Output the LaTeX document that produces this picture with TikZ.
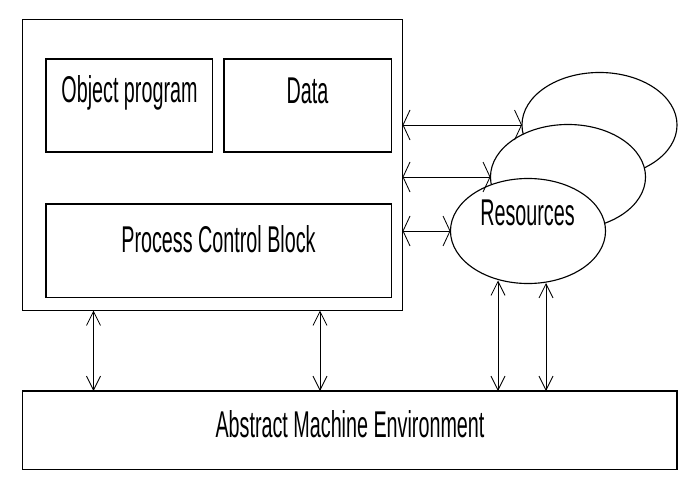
\documentclass[tikz,border=0pt]{standalone}
\usepackage{fontspec}
\newfontfamily\narrowfont{Liberation Sans}[FakeStretch=0.53]
\usetikzlibrary{arrows.meta,shapes.geometric}
\tikzset{hb/.tip={Straight Barb[length=0.175cm,width=0.75cm]},
	vb/.tip={Straight Barb[length=0.35cm,width=0.35cm]},
	box/.style={rectangle,draw=black,line width=0.9pt,inner sep=0pt,outer sep=0pt},
	res/.style={ellipse,draw=black,fill=white,line width=0.8pt,inner sep=0pt,outer sep=0pt,minimum width=3.875cm,minimum height=2.625cm},
	lbl/.style={anchor=base,inner sep=0pt,font=\narrowfont\fontsize{26.5}{30}\selectfont},
	harrow/.style={hb-hb,line width=0.6pt},
	varrow/.style={vb-vb,line width=0.6pt}}
\begin{document}
\begin{tikzpicture}[x=0.025cm,y=-0.025cm]
	\useasboundingbox (0,0) rectangle (694,486);
	\node (outer) at (212.5,165) [box,minimum width=9.5cm,minimum height=7.275cm] {};
	\node (obj) at (129.25,105.5) [box,minimum width=4.16cm,minimum height=2.325cm] {};
	\node (data) at (307.75,105.5) [box,minimum width=4.19cm,minimum height=2.325cm] {};
	\node (pcb) at (218.75,250.75) [box,minimum width=8.64cm,minimum height=2.34cm] {};
	\node (env) at (349.75,430.25) [box,minimum width=16.36cm,minimum height=1.96cm] {};
	\node (objtxt) at (129.5,102) [lbl] {Object program};
	\node (datatxt) at (307.5,103) [lbl] {Data};
	\node (pcbtxt) at (218.5,252) [lbl] {Process Control Block};
	\node (envtxt) at (350,437) [lbl] {Abstract Machine Environment};
	\node (res3) at (599.5,125) [res] {};
	\node (res2) at (568,177) [res] {};
	\node (res1) at (528,231) [res] {};
	\node (restxt) at (527.5,225) [lbl] {Resources};
	\coordinate (c1) at (93.5,0);
	\coordinate (c2) at (320,0);
	\coordinate (r1) at (498,280.5);
	\coordinate (r2) at (546,283);
	\draw [harrow] (outer.east |- res3.west) -- (res3.west);
	\draw [harrow] (outer.east |- res2.west) -- (res2.west);
	\draw [harrow] (outer.east |- res1.west) -- (res1.west);
	\draw [varrow] (c1 |- outer.south) -- (c1 |- env.north);
	\draw [varrow] (c2 |- outer.south) -- (c2 |- env.north);
	\draw [varrow] (r1) -- (r1 |- env.north);
	\draw [varrow] (r2) -- (r2 |- env.north);
\end{tikzpicture}
\end{document}
